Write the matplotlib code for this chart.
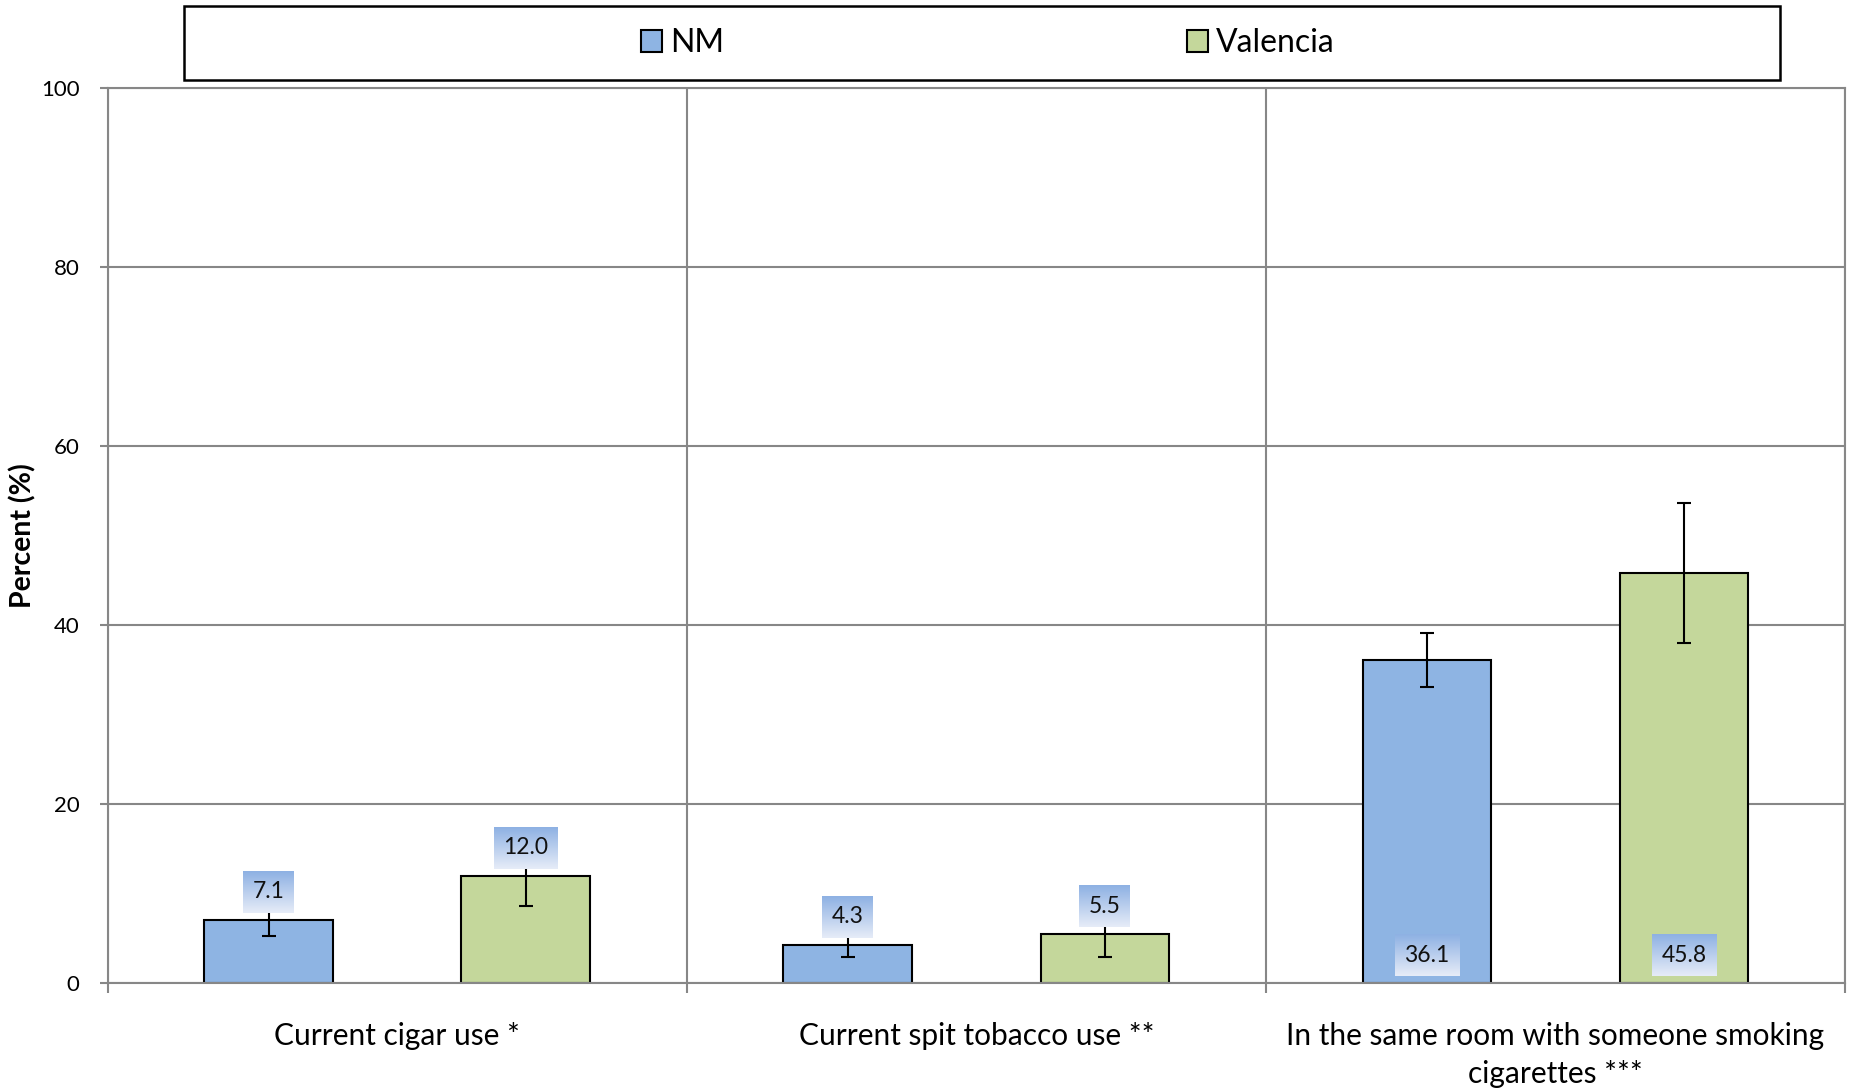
import numpy as np
import matplotlib
matplotlib.use('Agg')
import matplotlib.pyplot as plt
from matplotlib.colors import LinearSegmentedColormap
from matplotlib.patches import Rectangle

plt.rcParams['font.family'] = ['Lato', 'DejaVu Sans']

# Data
categories = ['Current cigar use *',
              'Current spit tobacco use **',
              'In the same room with someone smoking\ncigarettes ***']
series_names = ['NM', 'Valencia']
nm_values = [7.1, 4.3, 36.1]
valencia_values = [12.0, 5.5, 45.8]
nm_errors = [1.8, 1.4, 3.0]
valencia_errors = [3.4, 2.6, 7.8]
# label sits above the bar (True) or inside at the base (False)
label_outside = [True, True, False]

COLORS = ['#8EB4E3', '#C4D79B']
GRID = '#878787'
DPI = 100


def gradient_label(ax, renderer, x, y_ref, text):
    """Data label with a blue-to-white gradient box behind it."""
    off = 28 * 72 / DPI
    t = ax.annotate(text, xy=(x, y_ref), xytext=(0, off), textcoords='offset points',
                    ha='center', va='center', fontsize=16.5, color='#111111', zorder=6)
    bb = t.get_window_extent(renderer)
    cx = (bb.x0 + bb.x1) / 2
    # vertical centre taken from the anchor so every box has same height
    _, cy = ax.transData.transform((x, y_ref))
    cy += 28
    w = bb.width + 19
    h = 42
    inv = ax.transData.inverted()
    x0, y0 = inv.transform((cx - w / 2, cy - h / 2))
    x1, y1 = inv.transform((cx + w / 2, cy + h / 2))
    cmap = LinearSegmentedColormap.from_list('lbl', ['#E6ECF8', '#8EB1E3'])
    grad = np.linspace(0, 1, 64).reshape(-1, 1)
    ax.imshow(grad, cmap=cmap, extent=(x0, x1, y0, y1), origin='lower',
              aspect='auto', zorder=5, interpolation='bilinear')


def main():
    fig = plt.figure(figsize=(18.51, 10.91), dpi=DPI)
    ax = fig.add_axes([107.5 / 1851, 1 - 983.4 / 1091, (1845 - 107.5) / 1851, (983.4 - 88) / 1091])

    x = np.arange(len(categories))
    width = 0.222
    ekw = dict(ecolor='black', elinewidth=1.5, capsize=5, capthick=1.5)
    ax.bar(x - width, nm_values, width, color=COLORS[0], edgecolor='black', linewidth=1.5,
           label=series_names[0], zorder=2, yerr=nm_errors, error_kw=ekw)
    ax.bar(x + width, valencia_values, width, color=COLORS[1], edgecolor='black', linewidth=1.5,
           label=series_names[1], zorder=2, yerr=valencia_errors, error_kw=ekw)

    ax.set_xlim(-0.5, len(categories) - 0.5)
    ax.set_ylim(0, 100)
    ax.set_yticks(np.arange(0, 101, 20))
    ax.set_xticks(np.arange(-0.5, len(categories), 1.0))
    ax.set_xticklabels([])
    ax.set_xticks(x, minor=True)
    ax.set_xticklabels(categories, minor=True, fontsize=21.5, linespacing=1.45, va='top')
    ax.tick_params(axis='x', which='minor', length=0, pad=27.5)
    ax.tick_params(axis='x', which='major', direction='out', length=7.5, width=1.5, color=GRID)
    ax.tick_params(axis='y', direction='out', length=6, width=1.5, color=GRID,
                   labelsize=16, pad=14)
    ax.grid(True, which='major', color=GRID, linewidth=1.5)
    ax.set_axisbelow(True)
    for sp in ax.spines.values():
        sp.set_color(GRID)
        sp.set_linewidth(1.5)
    ax.set_ylabel('Percent (%)', fontsize=20.5, fontweight='bold', labelpad=3)

    fig.canvas.draw()
    renderer = fig.canvas.get_renderer()
    for i in range(len(categories)):
        for dx, vals in ((-width, nm_values), (width, valencia_values)):
            ref = vals[i] if label_outside[i] else 0
            gradient_label(ax, renderer, x[i] + dx, ref, f'{vals[i]:.1f}')
    ax.set_xlim(-0.5, len(categories) - 0.5)
    ax.set_ylim(0, 100)

    # legend box across the top
    fig.patches.append(Rectangle((184 / 1851, 1 - 80 / 1091), (1780 - 184) / 1851, 74 / 1091,
                                 transform=fig.transFigure, fill=False, edgecolor='black',
                                 linewidth=1.8))
    fig.legend(loc='center', bbox_to_anchor=(988 / 1851, 1 - 43 / 1091), ncol=2, frameon=False,
               fontsize=23, handlelength=0.65, handleheight=0.7, handletextpad=0.25,
               columnspacing=14.5)

    fig.savefig('out.png', dpi=DPI)


if __name__ == '__main__':
    main()
